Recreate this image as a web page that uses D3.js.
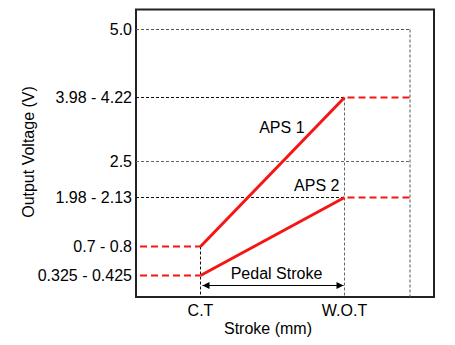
<!DOCTYPE html>
<html><head><meta charset="utf-8">
<script src="https://cdn.jsdelivr.net/npm/d3@7"></script>
<style>body{margin:0;background:#fff}svg{display:block}</style>
</head><body>
<svg id="c" width="455" height="345"></svg>
<script>
// ---- data ----
const yTickLabels = ["0.325 - 0.425", "0.7 - 0.8", "1.98 - 2.13", "2.5", "3.98 - 4.22", "5.0"];
const yTickValues = [0.375, 0.75, 2.055, 2.5, 4.1, 5.0];
const xCategories = ["C.T", "W.O.T"];
const xCategoryValues = [0, 1];
const aps1 = [0.75, 4.1];
const aps2 = [0.375, 2.055];
const seriesNames = ["APS 1", "APS 2"];
const xTitle = "Stroke (mm)";
const yTitle = "Output Voltage (V)";
const strokeLabel = "Pedal Stroke";

// ---- layout ----
const svg = d3.select("#c");
const frame = {x0: 136, x1: 434, y0: 9.5, y1: 297};
const xStart = -0.42, xEnd = 1.455;
const x = d3.scaleLinear().domain([0, 1]).range([200.5, 344.5]);
const y = d3.scaleLinear().domain(yTickValues).range([275.5, 246.5, 197.5, 161.5, 97.5, 29.5]);
const font = "'Liberation Sans', Arial, Helvetica, sans-serif";
const red = "#f51515";

// frame
svg.append("rect").attr("x", frame.x0).attr("y", frame.y0)
  .attr("width", frame.x1 - frame.x0).attr("height", frame.y1 - frame.y0)
  .attr("fill", "none").attr("stroke", "#222").attr("stroke-width", 2);

const g = svg.append("g");
function dashed(x1, y1, x2, y2, color) {
  g.append("line").attr("x1", x1).attr("y1", y1).attr("x2", x2).attr("y2", y2)
    .attr("stroke", color).attr("stroke-width", 1).attr("stroke-dasharray", "3,2");
}
// horizontal guides
dashed(frame.x0, y(5.0), x(xEnd), y(5.0), "#555");
dashed(frame.x0, y(aps1[1]), x(1), y(aps1[1]), "#111");
dashed(frame.x0, y(2.5), x(xEnd), y(2.5), "#666");
dashed(frame.x0, y(aps2[1]), x(1), y(aps2[1]), "#111");
// vertical guides
dashed(x(xEnd), y(5.0), x(xEnd), frame.y1, "#555");
dashed(x(1), y(aps1[1]), x(1), frame.y1, "#666");
dashed(x(0), y(aps1[0]), x(0), frame.y1, "#111");

// red dashed extensions
[aps1, aps2].forEach(s => {
  g.append("line").attr("x1", x(xStart)).attr("x2", x(0)).attr("y1", y(s[0])).attr("y2", y(s[0]))
    .attr("stroke", red).attr("stroke-width", 2).attr("stroke-dasharray", "7,4");
  g.append("line").attr("x1", x(1) + 3).attr("x2", x(xEnd)).attr("y1", y(s[1])).attr("y2", y(s[1]))
    .attr("stroke", red).attr("stroke-width", 2).attr("stroke-dasharray", "7,4");
});

// solid series lines
const line = d3.line().x((d, i) => x(xCategoryValues[i])).y(d => y(d));
[aps1, aps2].forEach(s => {
  g.append("path").attr("d", line(s)).attr("fill", "none")
    .attr("stroke", red).attr("stroke-width", 3).attr("stroke-linecap", "butt");
});

// arrow
const defs = svg.append("defs");
defs.append("marker").attr("id", "ah").attr("viewBox", "0 0 10 10").attr("refX", 10).attr("refY", 5)
  .attr("markerWidth", 9).attr("markerHeight", 7).attr("markerUnits", "userSpaceOnUse")
  .attr("orient", "auto-start-reverse")
  .append("path").attr("d", "M0,0L10,5L0,10Z").attr("fill", "#000");
const arrowY = 285.5;
g.append("line").attr("x1", x(0) + 2).attr("x2", x(1) - 1).attr("y1", arrowY).attr("y2", arrowY)
  .attr("stroke", "#000").attr("stroke-width", 1)
  .attr("marker-start", "url(#ah)").attr("marker-end", "url(#ah)");

// texts
const txt = (t, xx, yy, anchor, size) => svg.append("text").attr("x", xx).attr("y", yy)
  .attr("text-anchor", anchor).attr("font-family", font).attr("font-size", size).attr("fill", "#000").text(t);

txt(strokeLabel, (x(0) + x(1)) / 2 + 4, 279, "middle", 16);
txt(seriesNames[0], x(0.565), 133, "middle", 16);
txt(seriesNames[1], x(0.965), 191, "end", 16);

// y tick labels
yTickValues.forEach((v, i) => {
  txt(yTickLabels[i], 132, y(v) + 5.5, "end", 16);
});
// x tick labels
xCategoryValues.forEach((v, i) => {
  txt(xCategories[i], x(v), 316, "middle", 16);
});
// axis titles
txt(xTitle, 268, 334, "middle", 16);
svg.append("text").attr("transform", "translate(34,152) rotate(-90)")
  .attr("text-anchor", "middle").attr("font-family", font).attr("font-size", 16).text(yTitle);
</script>
</body></html>
